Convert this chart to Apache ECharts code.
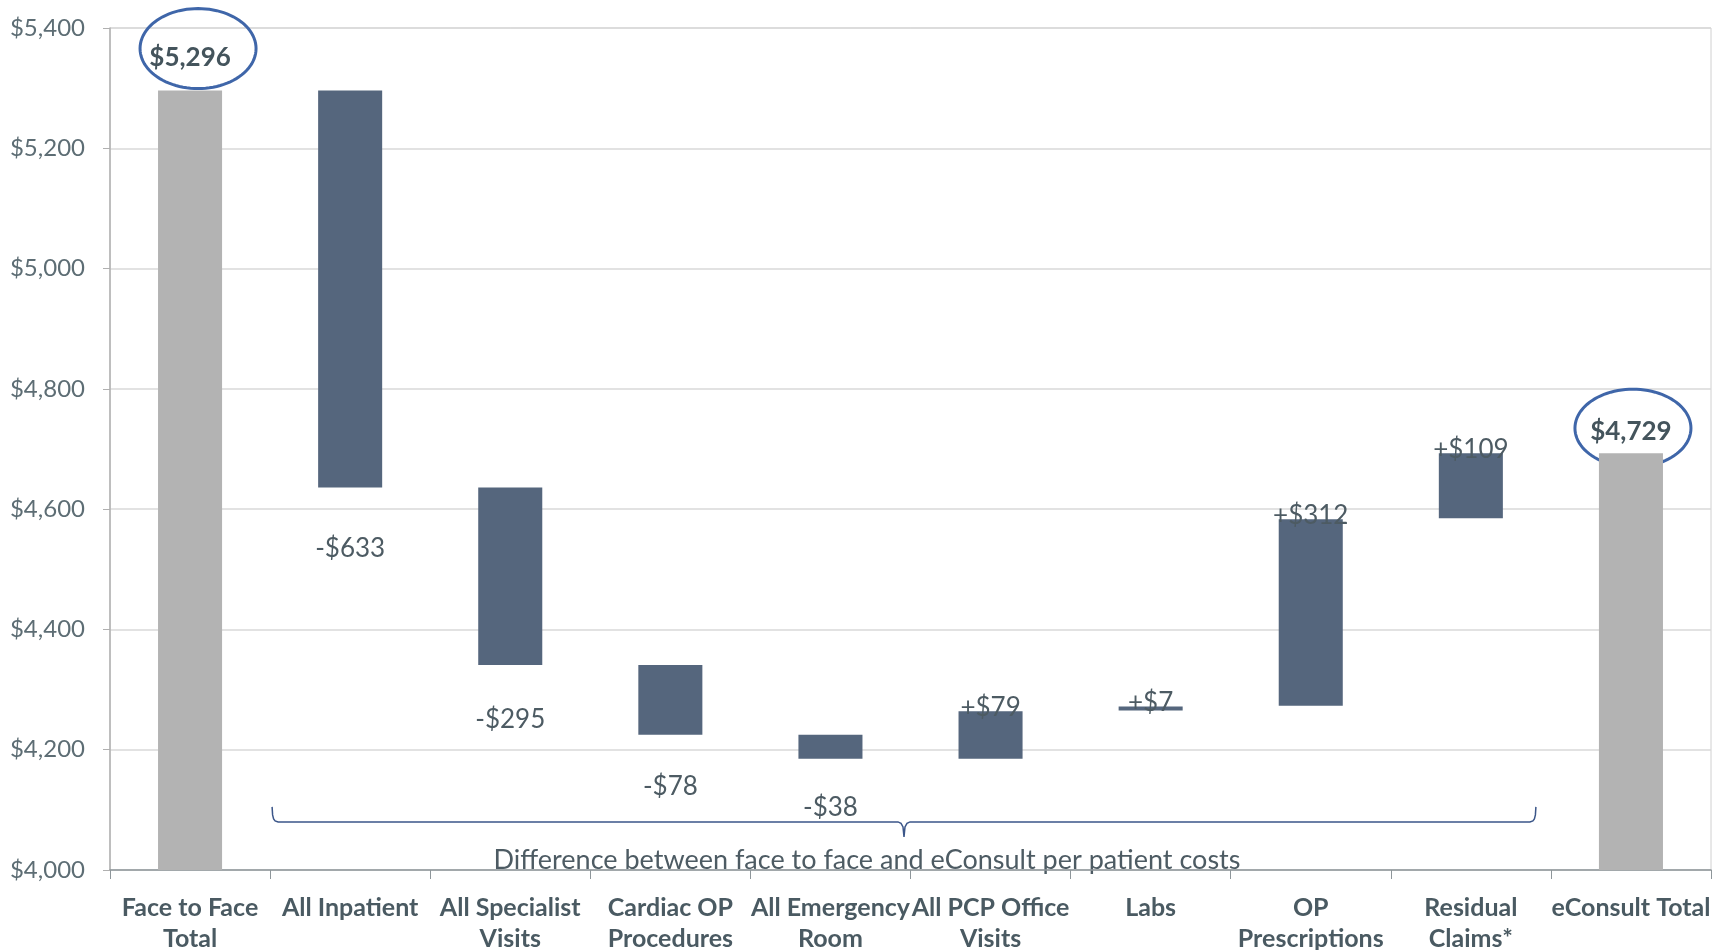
<!DOCTYPE html>
<html><head><meta charset="utf-8">
<script src="https://cdn.jsdelivr.net/npm/echarts/dist/echarts.min.js"></script>
<style>html,body{margin:0;padding:0;background:#fff}#c{width:1729px;height:950px}</style>
</head><body><div id="c"></div>
<script>
// ---- data ----
const categories = ['Face to Face\nTotal','All Inpatient','All Specialist\nVisits','Cardiac OP\nProcedures','All Emergency\nRoom','All PCP Office\nVisits','Labs','OP\nPrescriptions','Residual\nClaims*','eConsult Total'];
const barBottom = [4000, 4636, 4341, 4225, 4185, 4185, 4265, 4273, 4585, 4000];
const barTop    = [5296, 5296, 4636, 4341, 4225, 4264, 4272, 4583, 4693, 4693];
const labelValues = [5296, -633, -295, -78, -38, 79, 7, 312, 109, 4729];
const isTotal = [true, false, false, false, false, false, false, false, false, true];
const yMin = 4000, yMax = 5400, yInterval = 200;
const braceText = 'Difference between face to face and eConsult per patient costs';

// ---- styles ----
const FONT = 'Lato';
const GRAY = '#b3b3b3', BLUE = '#55667d', TXT = '#4d5b63';
const negDistance = {1: 48, 2: 42, 3: 39, 4: 36};
const totalDistance = {0: 20, 9: 9};

function fmtMoney(v, sign) {
  const s = '$' + Math.abs(v).toLocaleString('en-US');
  if (!sign) return s;
  return (v < 0 ? '-' : '+') + s;
}

function labelFor(i) {
  const v = labelValues[i];
  if (isTotal[i]) {
    return {show: true, position: 'top', distance: totalDistance[i], formatter: fmtMoney(v, false),
      fontFamily: FONT, fontSize: 26, fontWeight: 'bold', color: '#44545c'};
  }
  if (v < 0) {
    return {show: true, position: 'bottom', distance: negDistance[i], formatter: fmtMoney(v, true),
      fontFamily: FONT, fontSize: 26, color: TXT};
  }
  return {show: true, position: 'top', distance: -9, formatter: fmtMoney(v, true),
    fontFamily: FONT, fontSize: 26, color: TXT};
}

const chart = echarts.init(document.getElementById('c'), null, {renderer: 'canvas'});
chart.setOption({
  animation: false,
  backgroundColor: '#fff',
  grid: {left: 110, right: 18, top: 28, bottom: 80, containLabel: false, outerBoundsMode: 'none',
    show: true, borderColor: '#d0d0d0', borderWidth: 1},
  xAxis: {
    type: 'category', data: categories,
    axisLine: {lineStyle: {color: '#8e969a', width: 1.5}},
    axisTick: {show: true, length: 9, lineStyle: {color: '#8e969a'}},
    axisLabel: {interval: 0, margin: 22, fontFamily: FONT, fontSize: 25, fontWeight: 'bold', color: '#4a5a62', lineHeight: 31}
  },
  yAxis: {
    type: 'value', min: yMin, max: yMax, interval: yInterval,
    axisLine: {show: true, lineStyle: {color: '#b0b0b0', width: 1.5}},
    axisTick: {show: true, length: 7, lineStyle: {color: '#b0b0b0'}},
    splitLine: {lineStyle: {color: '#d9d9d9', width: 1.5}},
    axisLabel: {margin: 25, fontFamily: FONT, fontSize: 24, color: '#5d6d74',
      formatter: v => '$' + v.toLocaleString('en-US')}
  },
  series: [
    {type: 'bar', stack: 'w', silent: true, barWidth: '40%',
      itemStyle: {color: 'transparent'}, data: barBottom},
    {type: 'bar', stack: 'w', barWidth: '40%',
      data: barTop.map((t, i) => ({value: t - barBottom[i],
        itemStyle: {color: isTotal[i] ? GRAY : BLUE},
        label: labelFor(i)}))}
  ]
});

// ---- annotations anchored to the axes ----
function px(i, v) { return chart.convertToPixel({xAxisIndex: 0, yAxisIndex: 0}, [i, v]); }
function ellipsePts(cx, cy, rx, ry) {
  const pts = [];
  for (let k = 0; k <= 96; k++) { const a = k / 96 * Math.PI * 2; pts.push([cx + rx * Math.cos(a), cy + ry * Math.sin(a)]); }
  return pts;
}
const band = px(1, yMin)[0] - px(0, yMin)[0];
const p0 = px(0, barTop[0]);
const p9 = px(9, barTop[9]);
const leftX = px(1, yMin)[0] - band / 2 + 2;
const rightX = px(9, yMin)[0] - band / 2 - 15;
const midX = (leftX + rightX) / 2;
const by = px(0, 4080)[1];
const axisY = px(0, yMin)[1];
const brace = [
  [leftX, by - 15], [leftX + 0.5, by - 7], [leftX + 1.5, by - 3], [leftX + 3, by - 1], [leftX + 6, by],
  [midX - 6, by], [midX - 3, by + 1.5], [midX - 1, by + 5], [midX, by + 15],
  [midX + 1, by + 5], [midX + 3, by + 1.5], [midX + 6, by],
  [rightX - 6, by], [rightX - 3, by - 1], [rightX - 1.5, by - 3], [rightX - 0.5, by - 7], [rightX, by - 15]
];
chart.setOption({
  graphic: [
    {type: 'polygon', shape: {points: ellipsePts(p0[0] + 8, p0[1] - 42, 58, 40)}, silent: true,
      style: {fill: null, stroke: '#3f66a9', lineWidth: 3}},
    {type: 'polygon', shape: {points: ellipsePts(p9[0] + 2, p9[1] - 25, 58, 39)}, silent: true,
      style: {fill: null, stroke: '#3f66a9', lineWidth: 3}},
    {type: 'polyline', shape: {points: brace, smooth: 0}, silent: true,
      style: {fill: null, stroke: '#3b5689', lineWidth: 1.5}},
    {type: 'text', x: midX - 37, y: axisY - 10, silent: true,
      style: {text: braceText, fontFamily: FONT, fontSize: 27, fill: TXT, align: 'center', verticalAlign: 'middle'}}
  ]
});
</script></body></html>
